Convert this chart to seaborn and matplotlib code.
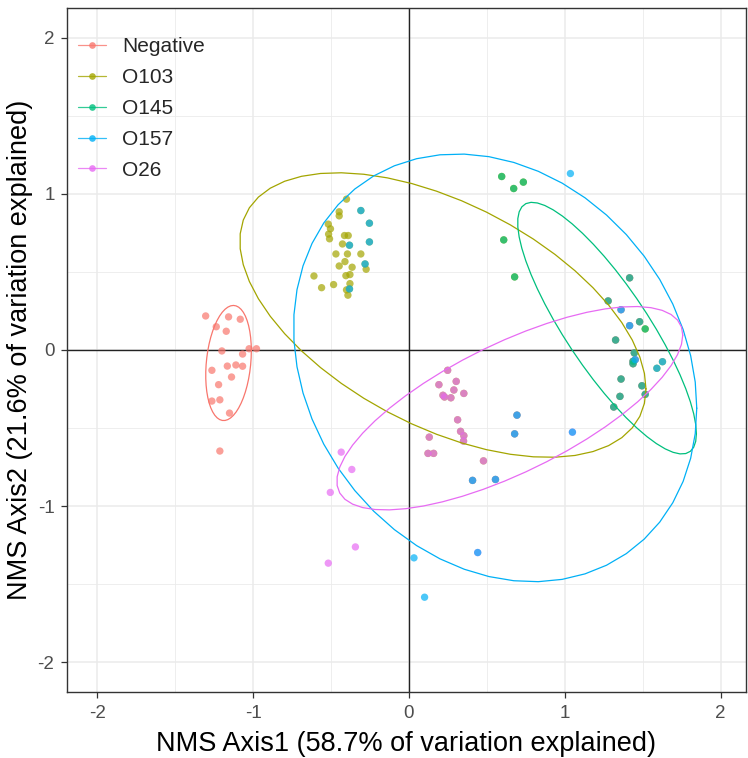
import numpy as np
import pandas as pd
import matplotlib
matplotlib.use("Agg")
import matplotlib.pyplot as plt
from matplotlib.lines import Line2D
import seaborn as sns

# ---------------- data ----------------
groups = ["Negative", "O103", "O145", "O157", "O26"]
palette = ["#F8766D", "#A3A500", "#00BF7D", "#00B0F6", "#E76BF3"]

neg_x = [-1.305, -1.158, -1.083, -1.237, -1.173, -1.201, -1.068, -1.026, -0.979, -1.265,
         -1.166, -1.111, -1.068, -1.139, -1.222, -1.265, -1.214, -1.152, -1.214]
neg_y = [0.218, 0.212, 0.197, 0.149, 0.120, -0.006, -0.026, 0.008, 0.008, -0.130,
         -0.103, -0.096, -0.104, -0.173, -0.222, -0.327, -0.319, -0.404, -0.647]

# samples positive for several serogroups appear in several groups (same coordinates)
o103_x = [-0.401, -0.448, -0.448, -0.518, -0.504, -0.516, -0.510, -0.414, -0.390, -0.427,
          -0.469, -0.395, -0.309, -0.411, -0.448, -0.365, -0.275, -0.610, -0.405, -0.379,
          -0.484, -0.561, -0.379, -0.401, -0.392,
          -0.309, -0.254, -0.382, -0.254, -0.282, -0.382,
          0.595, 0.734, 0.672, 0.608, 0.678,
          0.248, 0.192, 0.303, 0.288, 0.352, 0.218, 0.228, 0.269, 0.312, 0.331,
          0.352, 0.350, 0.130, 0.122, 0.158, 0.478,
          0.693, 0.678, 0.408, 0.555,
          1.416, 1.278, 1.480, 1.516, 1.326, 1.446, 1.438, 1.438, 1.361, 1.495,
          1.354, 1.516, 1.314, 1.361, 1.416, 1.452, 1.627, 1.591]
o103_y = [0.966, 0.885, 0.859, 0.806, 0.776, 0.742, 0.712, 0.733, 0.733, 0.679,
          0.615, 0.615, 0.615, 0.566, 0.538, 0.530, 0.517, 0.474, 0.476, 0.483,
          0.419, 0.399, 0.425, 0.385, 0.351,
          0.893, 0.812, 0.671, 0.692, 0.551, 0.391,
          1.111, 1.075, 1.034, 0.705, 0.468,
          -0.130, -0.222, -0.201, -0.256, -0.278, -0.290, -0.301, -0.306, -0.447, -0.521,
          -0.549, -0.583, -0.558, -0.662, -0.662, -0.710,
          -0.417, -0.537, -0.835, -0.829,
          0.462, 0.314, 0.181, 0.135, 0.064, -0.019, -0.072, -0.088, -0.186, -0.229,
          -0.297, -0.284, -0.365, 0.258, 0.156, -0.062, -0.075, -0.117]

o26_x = [0.248, 0.192, 0.303, 0.288, 0.352, 0.218, 0.228, 0.269, 0.312, 0.331,
         0.352, 0.350, 0.130, 0.122, 0.158, 0.478,
         -0.435, -0.367, -0.505, -0.344, -0.518,
         1.416, 1.278, 1.480, 1.326, 1.446, 1.438, 1.438, 1.361, 1.495,
         1.354, 1.516, 1.314, 1.361, 1.416, 1.452,
         0.408, 0.555, 0.441, 0.693, 0.678, 1.049]
o26_y = [-0.130, -0.222, -0.201, -0.256, -0.278, -0.290, -0.301, -0.306, -0.447, -0.521,
         -0.549, -0.583, -0.558, -0.662, -0.662, -0.710,
         -0.654, -0.765, -0.912, -1.261, -1.365,
         0.462, 0.314, 0.181, 0.064, -0.019, -0.072, -0.088, -0.186, -0.229,
         -0.297, -0.284, -0.365, 0.258, 0.156, -0.062,
         -0.835, -0.829, -1.297, -0.417, -0.537, -0.526]

o145_x = [0.595, 0.734, 0.672, 0.608, 0.678,
          1.416, 1.278, 1.480, 1.516, 1.326, 1.446, 1.438, 1.438, 1.361, 1.495,
          1.354, 1.516, 1.314]
o145_y = [1.111, 1.075, 1.034, 0.705, 0.468,
          0.462, 0.314, 0.181, 0.135, 0.064, -0.019, -0.072, -0.088, -0.186, -0.229,
          -0.297, -0.284, -0.365]

o157_x = [-0.309, -0.254, -0.382, -0.254, -0.282, -0.382,
          1.036, 1.361, 1.416, 1.452, 1.627, 1.591, 1.049,
          0.693, 0.678, 0.408, 0.555, 0.441, 0.032, 0.100]
o157_y = [0.893, 0.812, 0.671, 0.692, 0.551, 0.391,
          1.130, 0.258, 0.156, -0.062, -0.075, -0.117, -0.526,
          -0.417, -0.537, -0.835, -0.829, -1.297, -1.331, -1.583]

series = {
    "Negative": (neg_x, neg_y),
    "O103": (o103_x, o103_y),
    "O26": (o26_x, o26_y),
    "O145": (o145_x, o145_y),
    "O157": (o157_x, o157_y),
}
# row order = drawing order
df = pd.concat(
    [pd.DataFrame({"NMS1": v[0], "NMS2": v[1], "Group": k}) for k, v in series.items()],
    ignore_index=True,
)

xlabel = "NMS Axis1 (58.7% of variation explained)"
ylabel = "NMS Axis2 (21.6% of variation explained)"
ticks = [-2, -1, 0, 1, 2]
ellipse_level = 0.80


# ---------------- stat_ellipse (type = "t") ----------------
def cov_trob(x, nu=5, maxit=25, tol=0.01):
    n, p = x.shape
    wt = np.ones(n)
    loc = (wt[:, None] * x).sum(0) / wt.sum()
    w = np.sqrt(wt)
    X = x - loc
    for _ in range(maxit):
        w0 = w
        X = x - loc
        A = np.sqrt(w / w.sum())[:, None] * X
        _, d, vt = np.linalg.svd(A, full_matrices=False)
        wX = X @ vt.T @ np.diag(1.0 / d)
        Q = (wX ** 2).sum(1)
        w = (wt * (nu + p)) / (nu + Q)
        loc = (w[:, None] * x).sum(0) / w.sum()
        if np.all(np.abs(w - w0) < tol):
            break
    cov = (np.sqrt(w)[:, None] * X).T @ (np.sqrt(w)[:, None] * X) / wt.sum()
    return cov, loc


def ellipse_pts(xs, ys, level=0.95, segments=51):
    pts = np.column_stack([xs, ys])
    cov, center = cov_trob(pts)
    dfd = len(pts) - 1
    qf = dfd / 2.0 * ((1 - level) ** (-2.0 / dfd) - 1)
    radius = np.sqrt(2 * qf)
    R = np.linalg.cholesky(cov).T
    ang = np.arange(segments + 1) * 2 * np.pi / segments
    circ = np.column_stack([np.cos(ang), np.sin(ang)])
    e = center + radius * (circ @ R)
    return e[:, 0], e[:, 1]


# ---------------- plot ----------------
sns.set_theme(style="white")
plt.rcParams["font.family"] = ["Liberation Sans", "DejaVu Sans"]
plt.rcParams["axes.unicode_minus"] = False

fig = plt.figure(figsize=(7.48, 7.58), dpi=100)
ax = fig.add_axes([67 / 748, 66 / 758, (746 - 67) / 748, (750 - 66) / 758])

ax.set_xlim(-2.195, 2.163)
ax.set_ylim(-2.19, 2.19)
ax.set_xticks(ticks)
ax.set_yticks(ticks)
ax.set_xticks([-1.5, -0.5, 0.5, 1.5], minor=True)
ax.set_yticks([-1.5, -0.5, 0.5, 1.5], minor=True)
ax.grid(True, which="major", color="#EBEBEB", linewidth=1.1, zorder=0)
ax.grid(True, which="minor", color="#EBEBEB", linewidth=0.6, zorder=0)
ax.set_axisbelow(True)

ax.axhline(0, color="#222222", linewidth=1.0, zorder=1)
ax.axvline(0, color="#222222", linewidth=1.0, zorder=1)

pal = dict(zip(groups, palette))
sns.scatterplot(data=df, x="NMS1", y="NMS2", hue="Group", hue_order=groups,
                palette=pal, s=28, alpha=0.7, linewidth=0, legend=False, ax=ax, zorder=3)

for g in groups:
    gx, gy = series[g]
    ex, ey = ellipse_pts(np.array(gx), np.array(gy), level=ellipse_level)
    ax.plot(ex, ey, color=pal[g], linewidth=0.9, zorder=4)

for sp in ax.spines.values():
    sp.set_color("#333333")
    sp.set_linewidth(1.0)

ax.tick_params(axis="both", which="major", direction="out", length=4, width=0.9,
               color="#333333", labelcolor="#4D4D4D", labelsize=13.5, pad=5,
               bottom=True, left=True)
ax.tick_params(axis="both", which="minor", length=0)
ax.set_xlabel(xlabel, fontsize=19.5, color="black", labelpad=7)
ax.set_ylabel(ylabel, fontsize=19.5, color="black", labelpad=3)

handles = [Line2D([0], [0], color=pal[g], linewidth=0.9, marker="o", markersize=4.8,
                  markerfacecolor=pal[g], markeredgewidth=0, alpha=0.8) for g in groups]
ax.legend(handles, groups, loc="upper left", bbox_to_anchor=(0.0, 0.974), frameon=False,
          fontsize=15, handlelength=1.3, handletextpad=0.8, labelspacing=0.57,
          borderaxespad=0.15)

fig.savefig("out.png", dpi=100)
